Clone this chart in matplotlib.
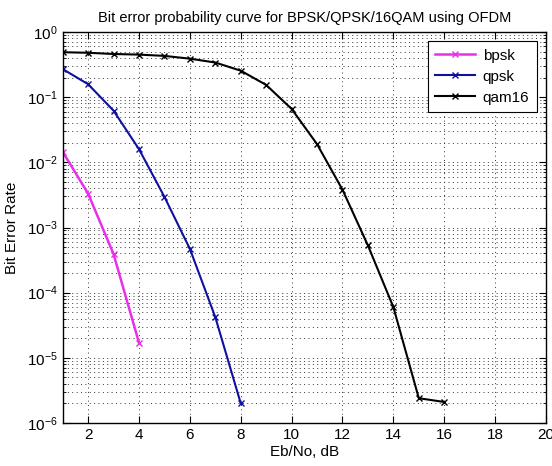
import math
import matplotlib
matplotlib.use("Agg")
import matplotlib.pyplot as plt
from matplotlib.ticker import FixedLocator, FuncFormatter, LogLocator, NullFormatter

plt.rcParams['font.family'] = ['Liberation Sans', 'DejaVu Sans']
plt.rcParams['mathtext.fontset'] = 'custom'
plt.rcParams['mathtext.rm'] = 'Liberation Sans'
plt.rcParams['mathtext.it'] = 'Liberation Sans:italic'
plt.rcParams['mathtext.bf'] = 'Liberation Sans:bold'

ebno_bpsk = [1, 2, 3, 4]
ber_bpsk = [1.45e-2, 3.3e-3, 3.9e-4, 1.7e-5]

ebno_qpsk = [1, 2, 3, 4, 5, 6, 7, 8]
ber_qpsk = [0.27, 0.158, 0.062, 0.0159, 2.95e-3, 4.7e-4, 4.2e-5, 2.0e-6]

ebno_qam16 = [1, 2, 3, 4, 5, 6, 7, 8, 9, 10, 11, 12, 13, 14, 15, 16]
ber_qam16 = [0.49, 0.48, 0.46, 0.45, 0.43, 0.39, 0.34, 0.255, 0.154, 0.066,
             0.019, 3.8e-3, 5.3e-4, 6.0e-5, 2.4e-6, 2.1e-6]

x_ticks = [2, 4, 6, 8, 10, 12, 14, 16, 18, 20]
title = "Bit error probability curve for BPSK/QPSK/16QAM using OFDM"
xlabel = "Eb/No, dB"
ylabel = "Bit Error Rate"

fig = plt.figure(figsize=(5.52, 4.66), dpi=100)
ax = fig.add_axes([0.1136, 0.0923, 0.8755, 0.8390])

ax.semilogy(ebno_bpsk, ber_bpsk, color='#e830e8', marker='x', markersize=5,
            linewidth=1.8, label='bpsk')
ax.semilogy(ebno_qpsk, ber_qpsk, color='#1010a0', marker='x', markersize=5,
            linewidth=1.5, label='qpsk')
ax.semilogy(ebno_qam16, ber_qam16, color='black', marker='x', markersize=5,
            linewidth=1.5, label='qam16')

ax.set_xlim(1, 20)
ax.set_ylim(1e-6, 1)
ax.xaxis.set_major_locator(FixedLocator(x_ticks))
ax.yaxis.set_major_locator(LogLocator(base=10, numticks=10))
ax.yaxis.set_minor_locator(LogLocator(base=10, subs=range(2, 10), numticks=20))
ax.yaxis.set_minor_formatter(NullFormatter())
ax.yaxis.set_major_formatter(FuncFormatter(lambda v, p: r'$10^{%d}$' % round(math.log10(v))))

ax.tick_params(which='both', direction='in', top=True, right=True, labelsize=11, colors='black')
ax.tick_params(which='major', length=5)
ax.tick_params(which='minor', length=2.5)
ax.grid(True, which='major', linestyle=(0, (1, 3.5)), color='#333333', linewidth=0.7)
ax.grid(True, which='minor', axis='y', linestyle=(0, (1, 3.5)), color='#333333', linewidth=0.7)

for s in ax.spines.values():
    s.set_linewidth(1.0)

ax.set_title(title, fontsize=10.5, pad=7)
ax.set_xlabel(xlabel, fontsize=11, labelpad=2)
ax.set_ylabel(ylabel, fontsize=11, labelpad=6)

leg = ax.legend(loc='upper right', fontsize=11, frameon=True, fancybox=False,
                edgecolor='black', framealpha=1, borderaxespad=0.6,
                handlelength=2.6, handletextpad=0.5, labelspacing=0.45, borderpad=0.5)
leg.get_frame().set_linewidth(0.8)

fig.savefig('out.png', dpi=100)
